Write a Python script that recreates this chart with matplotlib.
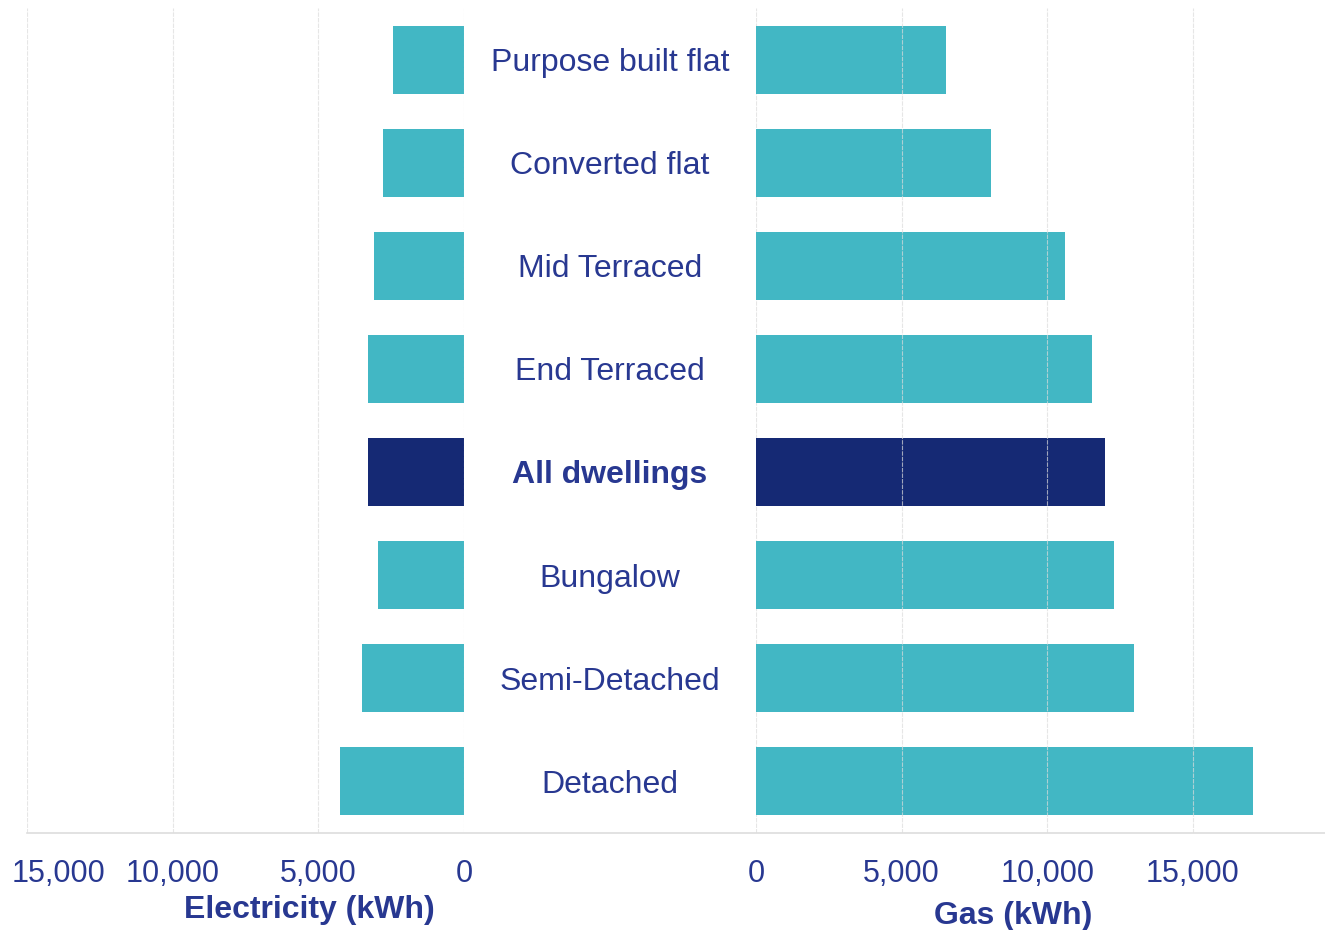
import matplotlib.pyplot as plt
import matplotlib.transforms as mtransforms
from matplotlib.lines import Line2D

categories = ['Purpose built flat', 'Converted flat', 'Mid Terraced', 'End Terraced',
              'All dwellings', 'Bungalow', 'Semi-Detached', 'Detached']
electricity = [2430, 2770, 3080, 3290, 3290, 2950, 3490, 4250]
gas = [6510, 8050, 10620, 11540, 11990, 12290, 12980, 17050]
ticks = [0, 5000, 10000, 15000]
tick_labels = ['0', '5,000', '10,000', '15,000']

TEAL = '#42b7c4'
NAVY = '#152974'
TEXT = '#283891'
GRID = '#dcdcdc'

plt.rcParams['font.family'] = ['Liberation Sans', 'DejaVu Sans']

fig = plt.figure(figsize=(13.25, 9.3), dpi=100)
W, H = 1325, 930
bottom = 1 - 833 / H
top = 1 - 8 / H
ax_l = fig.add_axes([27 / W, bottom, 437 / W, top - bottom])
ax_r = fig.add_axes([756 / W, bottom, 569 / W, top - bottom])

y = list(range(len(categories)))
colors = [NAVY if c == 'All dwellings' else TEAL for c in categories]

ax_l.barh(y, electricity, height=0.66, color=colors, zorder=1)
ax_r.barh(y, gas, height=0.66, color=colors, zorder=1)

ax_l.set_xlim(15000, 0)
ax_r.set_xlim(0, 569 / 437 * 15000)

for ax in (ax_l, ax_r):
    ax.set_ylim(len(categories) - 0.5, -0.5)
    ax.set_yticks([])
    ax.set_xticks(ticks)
    ax.set_xticklabels(tick_labels)
    ax.tick_params(axis='x', length=0, pad=19, labelsize=22, labelcolor=TEXT)
    for s in ax.spines.values():
        s.set_visible(False)
    ax.set_axisbelow(False)
    ax.grid(axis='x', color=GRID, linewidth=0.8, linestyle=(0, (4, 1)), alpha=0.7)

# zero line of the gas panel sits under the bars
ax_r.get_xgridlines()[0].set_visible(False)
ax_r.axvline(0, color=GRID, linewidth=0.8, linestyle=(0, (4, 1)), alpha=0.7, zorder=0)

# outermost left label is pushed inside the figure
lab = ax_l.get_xticklabels()[-1]
lab.set_transform(lab.get_transform() + mtransforms.ScaledTranslation(31 / 100, 0, fig.dpi_scale_trans))

# centre labels
for i, c in enumerate(categories):
    fig.text(610 / W, 1 - (63 + i * 103.1) / H, c, ha='center', va='center',
             fontsize=23, color=TEXT,
             fontweight='bold' if c == 'All dwellings' else 'normal')

# bottom axis line across both panels
fig.add_artist(Line2D([27 / W, 1.0], [bottom, bottom], transform=fig.transFigure,
                      color='#dddddd', linewidth=1.2))

fig.text(309 / W, 1 - 910 / H, 'Electricity (kWh)', ha='center', va='center',
         fontsize=23, fontweight='bold', color=TEXT)
fig.text(1013 / W, 1 - 916 / H, 'Gas (kWh)', ha='center', va='center',
         fontsize=23, fontweight='bold', color=TEXT)

fig.savefig('out.png', dpi=100)
